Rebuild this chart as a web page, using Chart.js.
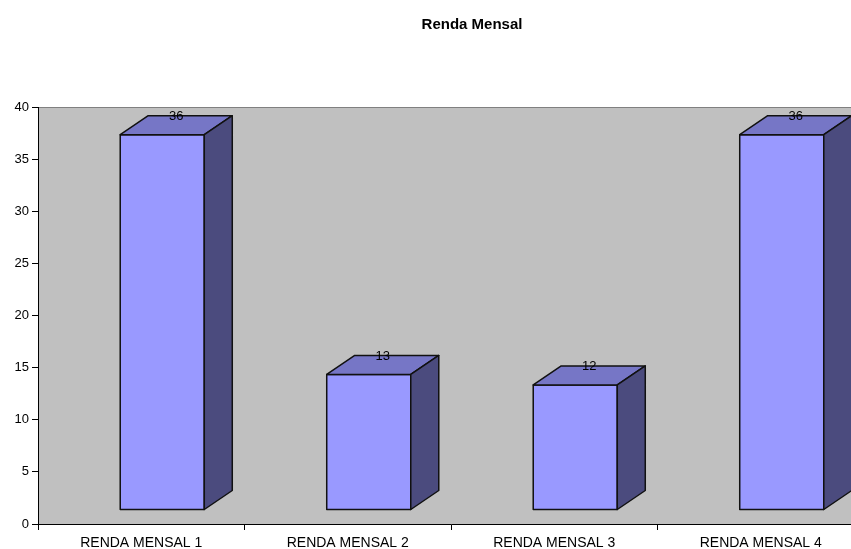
<!DOCTYPE html>
<html>
<head>
<meta charset="utf-8">
<script src="https://cdn.jsdelivr.net/npm/chart.js@4"></script>
<style>
  html, body { margin: 0; padding: 0; background: #fff; }
  #wrap { width: 851px; height: 549px; overflow: hidden; }
</style>
</head>
<body>
<div id="wrap"><canvas id="chart" width="944" height="549"></canvas></div>
<script>
const categorias = ['RENDA MENSAL 1', 'RENDA MENSAL 2', 'RENDA MENSAL 3', 'RENDA MENSAL 4'];
const valores = [36, 13, 12, 36];
const titulo = 'Renda Mensal';
const eixoMin = 0;
const eixoMax = 40;
const passo = 5;

const fonte = "'Liberation Sans', Arial, sans-serif";
const dx = 28, dy = 19, sobe = 14, desloca = 21;

// fundo cinza da area do grafico
const fundoPlugin = {
  id: 'fundo',
  beforeDraw(chart) {
    const { ctx, chartArea: a } = chart;
    ctx.save();
    ctx.fillStyle = '#C0C0C0';
    ctx.fillRect(a.left, a.top, a.right - a.left, a.bottom - a.top);
    ctx.strokeStyle = '#808080';
    ctx.lineWidth = 1;
    ctx.strokeRect(a.left + 0.5, a.top + 0.5, a.right - a.left, a.bottom - a.top);
    ctx.restore();
  },
  // titulo centrado sobre a area 3D (deslocada para a direita)
  afterDraw(chart) {
    const { ctx, chartArea: a } = chart;
    ctx.save();
    ctx.fillStyle = '#000';
    ctx.font = 'bold 15px ' + fonte;
    ctx.textAlign = 'center';
    ctx.textBaseline = 'middle';
    ctx.fillText(titulo, (a.left + a.right) / 2 + desloca, 25);
    ctx.restore();
  }
};

// barras 3D desenhadas a partir da geometria das barras do Chart.js
const barras3d = {
  id: 'barras3d',
  afterDatasetsDraw(chart) {
    const { ctx } = chart;
    const meta = chart.getDatasetMeta(0);
    ctx.save();
    ctx.lineWidth = 1.5;
    ctx.strokeStyle = '#111';
    ctx.lineJoin = 'round';
    meta.data.forEach((el, i) => {
      const w = el.width;
      const x0 = el.x + desloca - w / 2;
      const x1 = x0 + w;
      const yt = el.y - sobe;
      const yb = el.base - sobe;

      ctx.fillStyle = '#9999FF';
      ctx.fillRect(x0, yt, w, yb - yt);
      ctx.strokeRect(x0, yt, w, yb - yt);

      ctx.beginPath();
      ctx.moveTo(x0, yt);
      ctx.lineTo(x0 + dx, yt - dy);
      ctx.lineTo(x1 + dx, yt - dy);
      ctx.lineTo(x1, yt);
      ctx.closePath();
      ctx.fillStyle = '#7676C6';
      ctx.fill();
      ctx.stroke();

      ctx.beginPath();
      ctx.moveTo(x1, yt);
      ctx.lineTo(x1 + dx, yt - dy);
      ctx.lineTo(x1 + dx, yb - dy);
      ctx.lineTo(x1, yb);
      ctx.closePath();
      ctx.fillStyle = '#4B4B7E';
      ctx.fill();
      ctx.stroke();

      ctx.fillStyle = '#000';
      ctx.font = '13px ' + fonte;
      ctx.textAlign = 'center';
      ctx.textBaseline = 'middle';
      ctx.fillText(String(valores[i]), el.x + desloca + dx / 2, yt - dy + 1);
    });
    ctx.restore();
  }
};

new Chart(document.getElementById('chart'), {
  type: 'bar',
  data: {
    labels: categorias,
    datasets: [{
      data: valores,
      backgroundColor: 'rgba(0,0,0,0)',
      borderWidth: 0,
      barPercentage: 0.407,
      categoryPercentage: 1
    }]
  },
  options: {
    responsive: false,
    animation: false,
    layout: { padding: { left: 0, right: 80, top: 107, bottom: 0 } },
    plugins: {
      legend: { display: false },
      tooltip: { enabled: false },
      title: { display: false }
    },
    scales: {
      y: {
        min: eixoMin,
        max: eixoMax,
        ticks: { stepSize: passo, color: '#000', font: { family: fonte, size: 13 }, padding: 3 },
        grid: { drawOnChartArea: false, tickLength: 6, color: '#000' },
        border: { color: '#000', width: 1 },
        afterFit(s) { s.width = 38; }
      },
      x: {
        ticks: { color: '#000', font: { family: fonte, size: 14 }, padding: 5 },
        grid: { offset: true, drawOnChartArea: false, tickLength: 6, color: '#000' },
        border: { color: '#000', width: 1 },
        afterFit(s) { s.height = 25; }
      }
    }
  },
  plugins: [fundoPlugin, barras3d]
});
</script>
</body>
</html>
